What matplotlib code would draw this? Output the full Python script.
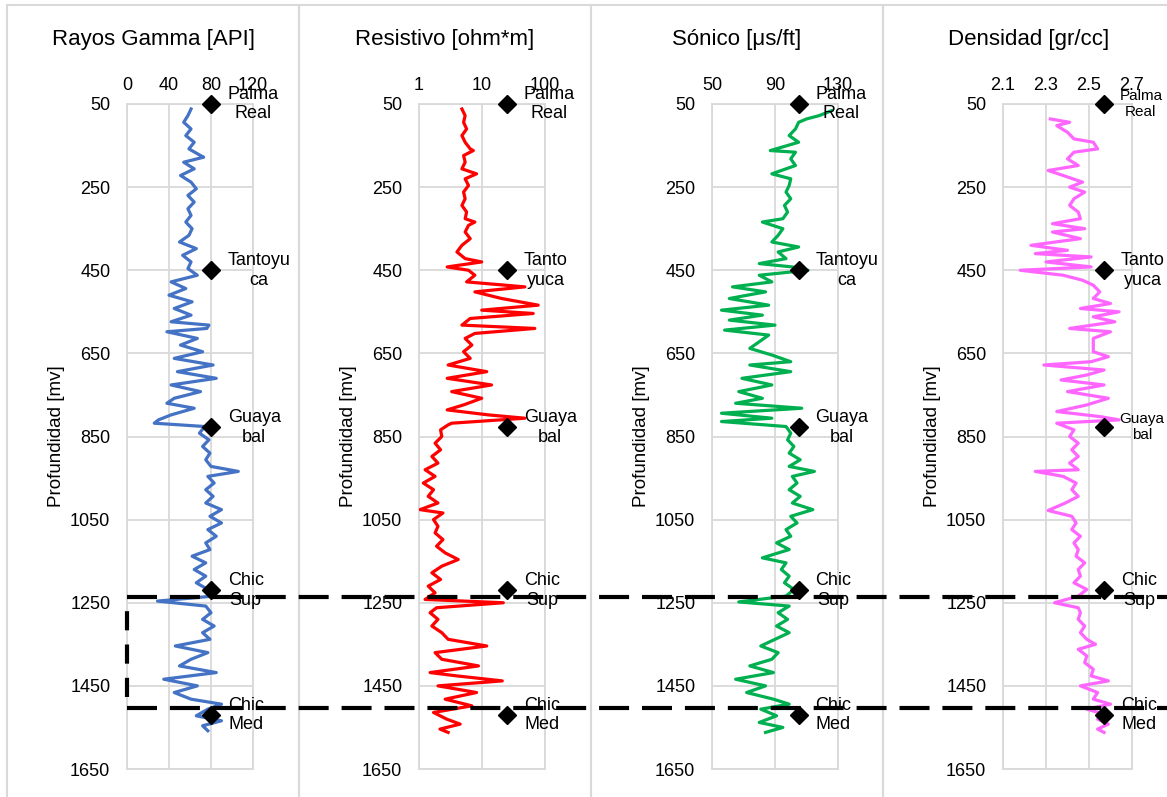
import numpy as np
import matplotlib.pyplot as plt
from matplotlib.lines import Line2D
from matplotlib.patches import Rectangle
from matplotlib.transforms import blended_transform_factory

plt.rcParams['font.family'] = ['Liberation Sans', 'DejaVu Sans']

# Rayos gamma [API]
prof_gr = [62, 78, 94, 110, 126, 142, 158, 174, 178, 190, 206, 222, 238, 254, 270, 286, 302, 318, 334, 350,
           366, 382, 398, 414, 430, 446, 462, 478, 494, 510, 526, 542, 558, 574, 582, 590, 598, 614, 630, 646,
           662, 678, 694, 710, 726, 742, 758, 770, 782, 798, 810, 818, 826, 842, 858, 874, 890, 906, 922, 934,
           946, 962, 978, 994, 1010, 1026, 1042, 1058, 1074, 1090, 1106, 1122, 1138, 1154, 1170, 1186, 1202, 1218, 1234, 1246,
           1258, 1274, 1290, 1306, 1322, 1338, 1354, 1370, 1386, 1402, 1418, 1434, 1450, 1466, 1482, 1494, 1506, 1522, 1534, 1546,
           1558]
gr = [61, 58, 54, 61, 56, 64, 59, 70, 73, 54, 64, 51, 61, 66, 58, 64, 58, 61, 56, 62,
      59, 50, 66, 53, 61, 58, 67, 42, 56, 40, 62, 45, 61, 42, 78, 76, 38, 67, 51, 72,
      45, 82, 48, 85, 42, 70, 45, 38, 64, 42, 30, 26, 74, 69, 78, 72, 79, 75, 80, 106,
      77, 83, 75, 82, 75, 90, 79, 90, 77, 85, 75, 79, 62, 75, 64, 75, 66, 77, 82, 29,
      75, 80, 72, 83, 72, 79, 46, 77, 61, 50, 85, 35, 67, 45, 61, 90, 77, 66, 90, 72,
      77]

# Resistivo [ohm*m]
prof_res = [62, 78, 94, 110, 126, 142, 158, 162, 174, 190, 206, 218, 230, 246, 262, 278, 294, 310, 326, 334,
            342, 358, 374, 390, 406, 422, 430, 442, 450, 462, 478, 490, 502, 518, 534, 546, 554, 566, 582, 590,
            602, 614, 630, 646, 662, 678, 694, 710, 726, 742, 758, 774, 786, 798, 806, 818,
            822, 834, 850, 866, 882, 898, 914, 930, 946, 962, 978, 994, 1010, 1026, 1034, 1050, 1066, 1082, 1098, 1114,
            1130, 1146, 1162, 1178, 1194, 1210, 1226, 1242, 1250, 1262, 1274, 1290, 1306, 1322, 1338, 1354, 1370, 1386, 1402, 1418,
            1426, 1438, 1450, 1466, 1482, 1498, 1514, 1530, 1542, 1554, 1562]
res = [4.8, 5.4, 5.1, 5.7, 4.8, 5.4, 6.5, 7.3, 5.1, 5.4, 4.8, 8.2, 5.4, 6.1, 5.1, 5.4, 4.8, 5.7, 5.4, 7.7,
       6.1, 5.4, 6.5, 4.8, 4.0, 5.4, 9.9, 2.8, 6.1, 7.7, 5.7, 48, 7.7, 20.5, 78, 9.9, 65, 6.5, 4.8, 69,
       7.7, 5.4, 6.9, 5.1, 6.5, 2.9, 11.9, 2.8, 14.2, 3.3, 9.9, 5.1, 2.8, 12.6, 48, 3.3,
       2.9, 2.2, 2.3, 1.8, 2.2, 1.6, 2.0, 1.25, 1.8, 1.17, 1.7, 1.4, 2.0, 1.04, 2.4, 1.7, 2.0, 1.8, 2.4, 1.9,
       2.6, 4.2, 2.3, 1.6, 2.2, 1.4, 1.8, 1.25, 21.8, 1.9, 1.5, 2.0, 1.6, 2.3, 2.9, 11.9, 1.8, 2.3, 8.8, 1.5,
       4.0, 21.0, 2.0, 8.2, 2.6, 6.9, 1.7, 2.75, 4.5, 2.15, 2.9]

# Sonico [us/ft]
prof_son = [66, 78, 86, 94, 110, 126, 142, 162, 166, 182, 198, 218, 230, 246, 262, 278, 294, 310, 326, 334,
            350, 366, 382, 394, 406, 422, 434, 442, 450, 462, 478, 490, 502, 518, 534, 546, 558, 570, 582, 594,
            606, 622, 638, 654, 670, 678, 694, 710, 726, 742, 758, 770, 782, 794, 806, 814,
            826, 842, 858, 874, 890, 906, 922, 934, 946, 962, 978, 994, 1010, 1026, 1042, 1058, 1074, 1090, 1106, 1122,
            1142, 1154, 1170, 1186, 1202, 1218, 1234, 1248, 1258, 1274, 1290, 1306, 1322, 1338, 1354, 1370, 1386, 1402, 1418, 1434,
            1450, 1466, 1482, 1494, 1506, 1522, 1538, 1550, 1562]
son = [126, 118, 110, 105, 103, 99, 105, 87, 103, 100, 103, 88, 100, 99, 97, 100, 96, 98, 95, 82,
       95, 92, 88, 105, 92, 97, 80, 101, 111, 80, 88, 63, 84, 61, 86, 56, 82, 61, 90, 58,
       86, 80, 74, 88, 100, 74, 100, 69, 88, 67, 82, 65, 107, 56, 88, 56,
       97, 100, 98, 102, 99, 106, 99, 115, 101, 104, 99, 106, 101, 114, 100, 104, 97, 100, 91, 99,
       82, 97, 94, 99, 96, 102, 97, 67, 99, 92, 98, 91, 99, 90, 81, 92, 88, 74, 89, 65,
       84, 72, 89, 99, 81, 91, 80, 95, 84]

# Densidad [gr/cc]
prof_den = [86, 94, 102, 118, 134, 142, 158, 166, 182, 198, 210, 222, 238, 250, 262, 278, 294, 310, 326, 338,
            350, 358, 374, 390, 402, 410, 418, 430, 442, 450, 462, 474, 486, 502, 518, 530, 542, 550, 562, 574,
            590, 598, 614, 630, 646, 658, 670, 678, 690, 702, 714, 726, 742, 758, 774, 790, 802, 810, 818,
            834, 850, 866, 882, 898, 914, 930, 934, 946, 962, 978, 994, 1010, 1028, 1042, 1058, 1074, 1090, 1106, 1122,
            1138, 1154, 1170, 1186, 1202, 1218, 1234, 1250, 1262, 1274, 1290, 1306, 1322, 1338, 1350, 1362, 1378, 1394, 1410, 1426,
            1438, 1450, 1466, 1482, 1494, 1506, 1518, 1530, 1542, 1554, 1562]
den = [2.32, 2.41, 2.35, 2.40, 2.43, 2.52, 2.54, 2.43, 2.40, 2.45, 2.31, 2.38, 2.47, 2.41, 2.48, 2.43, 2.41, 2.45, 2.46, 2.33,
       2.48, 2.33, 2.46, 2.23, 2.40, 2.25, 2.51, 2.30, 2.51, 2.18, 2.38, 2.47, 2.52, 2.55, 2.52, 2.60, 2.46, 2.64, 2.52, 2.62,
       2.41, 2.60, 2.52, 2.52, 2.52, 2.59, 2.51, 2.29, 2.57, 2.49, 2.37, 2.57, 2.40, 2.59, 2.49, 2.35, 2.55, 2.64, 2.35,
       2.43, 2.41, 2.45, 2.42, 2.45, 2.41, 2.45, 2.25, 2.38, 2.44, 2.42, 2.45, 2.39, 2.31, 2.42, 2.44, 2.42, 2.46, 2.43, 2.45,
       2.44, 2.48, 2.45, 2.46, 2.43, 2.49, 2.45, 2.34, 2.45, 2.46, 2.45, 2.48, 2.46, 2.49, 2.53, 2.45, 2.49, 2.48, 2.52, 2.51,
       2.59, 2.46, 2.54, 2.52, 2.60, 2.49, 2.57, 2.54, 2.59, 2.54, 2.57]

# Cimas de formaciones
prof_cimas = [50, 450, 828, 1220, 1520]
etiq_a = ["Palma\nReal", "Tantoyu\nca", "Guaya\nbal", "Chic\nSup", "Chic\nMed"]
etiq_b = ["Palma\nReal", "Tanto\nyuca", "Guaya\nbal", "Chic\nSup", "Chic\nMed"]
x_cimas = [80, 25, 105, 2.57]

# Zona de interes (profundidades)
zona = [1236, 1504]

titulos = ["Rayos Gamma [API]", "Resistivo [ohm*m]", "Sónico [μs/ft]", "Densidad [gr/cc]"]
colores = ["#4472C4", "#FF0000", "#00B050", "#FF66FF"]

W, H = 1167, 797
fig = plt.figure(figsize=(W / 100, H / 100), dpi=100)

# marcos de cada grafico (px)
marcos_x = [7, 299, 591, 883]
for k, x0 in enumerate(marcos_x):
    fig.add_artist(Rectangle((x0 / W, -0.05), 292 / W, 1.05 - 5 / H, transform=fig.transFigure,
                             fill=False, edgecolor="#d9d9d9", lw=1.5))
    fig.text((x0 + 146) / W, 1 - 40 / H, titulos[k], ha="center", va="center", fontsize=16)

ejes_x = [(127, 126), (419, 126), (712, 126), (1003, 129)]
curvas = [(gr, prof_gr), (res, prof_res), (son, prof_son), (den, prof_den)]
limites = [(0, 120), (1, 100), (50, 130), (2.1, 2.7)]
marcas = [[0, 40, 80, 120], [1, 10, 100], [50, 90, 130], [2.1, 2.3, 2.5, 2.7]]
textos_marcas = [["0", "40", "80", "120"], ["1", "10", "100"], ["50", "90", "130"], ["2.1", "2.3", "2.5", "2.7"]]
etiquetas = [etiq_a, etiq_b, etiq_a, etiq_b]

axes = []
for i in range(4):
    left, width = ejes_x[i]
    ax = fig.add_axes([left / W, (H - 769) / H, width / W, (769 - 104) / H])
    axes.append(ax)
    vals, prof = curvas[i]
    ax.plot(vals, prof, color=colores[i], lw=2.3, zorder=3)
    if i == 1:
        ax.set_xscale("log")
    ax.set_xlim(*limites[i])
    ax.set_xticks(marcas[i])
    ax.set_xticklabels(textos_marcas[i])
    ax.minorticks_off()
    ax.set_ylim(1650, 50)
    ax.set_yticks(np.arange(50, 1651, 200))
    ax.xaxis.tick_top()
    ax.tick_params(axis="both", length=0, labelsize=13)
    ax.tick_params(axis="x", pad=7)
    ax.tick_params(axis="y", pad=12)
    ax.grid(color="#d9d9d9", lw=1.3)
    ax.set_axisbelow(True)
    for s in ax.spines.values():
        s.set_color("#d9d9d9")
        s.set_linewidth(1.3)
    ax.set_ylabel("Profundidad [mv]", fontsize=13.5, labelpad=4)

    ax.plot([x_cimas[i]] * len(prof_cimas), prof_cimas, "D", color="black", ms=9,
            clip_on=False, zorder=5)
    for j, (d, t) in enumerate(zip(prof_cimas, etiquetas[i])):
        fs = 13
        dx = 12
        if i == 3 and j in (0, 2):
            fs = 11
            dx = 11
        ax.annotate(t, (x_cimas[i], d), xytext=(dx, 0), textcoords="offset points",
                    ha="left", va="center", multialignment="center", fontsize=fs,
                    annotation_clip=False, zorder=6)

# zona dashed: lineas horizontales y lado izquierdo
ax1 = axes[0]
x_izq = ax1.get_position().x0
tr_h = blended_transform_factory(fig.transFigure, ax1.transData)
for d in zona:
    fig.add_artist(Line2D([x_izq, 1.0], [d, d], transform=tr_h, color="black", lw=3,
                          linestyle=(0, (7.2, 3.1)), zorder=10))
tr_v = blended_transform_factory(ax1.transAxes, ax1.transData)
fig.add_artist(Line2D([0, 0], zona, transform=tr_v, color="black", lw=3,
                      linestyle=(4.6, (4.6, 3.4)), zorder=10))

plt.savefig("out.png", dpi=100)
